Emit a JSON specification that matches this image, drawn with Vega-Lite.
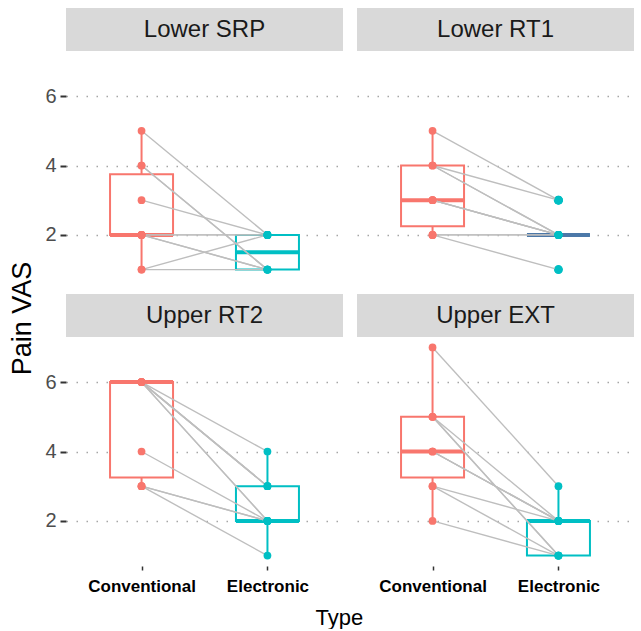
{
  "$schema": "https://vega.github.io/schema/vega-lite/v6.json",
  "padding": {"left": 8, "top": 8, "right": 1, "bottom": 0},
  "datasets": {
    "d": [
      {"panel":"Lower SRP","id":1,"Type":"Conventional","value":5},{"panel":"Lower SRP","id":1,"Type":"Electronic","value":2},
      {"panel":"Lower SRP","id":2,"Type":"Conventional","value":4},{"panel":"Lower SRP","id":2,"Type":"Electronic","value":1},
      {"panel":"Lower SRP","id":3,"Type":"Conventional","value":4},{"panel":"Lower SRP","id":3,"Type":"Electronic","value":1},
      {"panel":"Lower SRP","id":4,"Type":"Conventional","value":3},{"panel":"Lower SRP","id":4,"Type":"Electronic","value":2},
      {"panel":"Lower SRP","id":5,"Type":"Conventional","value":2},{"panel":"Lower SRP","id":5,"Type":"Electronic","value":2},
      {"panel":"Lower SRP","id":6,"Type":"Conventional","value":2},{"panel":"Lower SRP","id":6,"Type":"Electronic","value":2},
      {"panel":"Lower SRP","id":7,"Type":"Conventional","value":2},{"panel":"Lower SRP","id":7,"Type":"Electronic","value":1},
      {"panel":"Lower SRP","id":8,"Type":"Conventional","value":2},{"panel":"Lower SRP","id":8,"Type":"Electronic","value":1},
      {"panel":"Lower SRP","id":9,"Type":"Conventional","value":1},{"panel":"Lower SRP","id":9,"Type":"Electronic","value":2},
      {"panel":"Lower SRP","id":10,"Type":"Conventional","value":1},{"panel":"Lower SRP","id":10,"Type":"Electronic","value":1},

      {"panel":"Lower RT1","id":1,"Type":"Conventional","value":5},{"panel":"Lower RT1","id":1,"Type":"Electronic","value":3},
      {"panel":"Lower RT1","id":2,"Type":"Conventional","value":4},{"panel":"Lower RT1","id":2,"Type":"Electronic","value":3},
      {"panel":"Lower RT1","id":3,"Type":"Conventional","value":4},{"panel":"Lower RT1","id":3,"Type":"Electronic","value":2},
      {"panel":"Lower RT1","id":4,"Type":"Conventional","value":4},{"panel":"Lower RT1","id":4,"Type":"Electronic","value":2},
      {"panel":"Lower RT1","id":5,"Type":"Conventional","value":3},{"panel":"Lower RT1","id":5,"Type":"Electronic","value":2},
      {"panel":"Lower RT1","id":6,"Type":"Conventional","value":3},{"panel":"Lower RT1","id":6,"Type":"Electronic","value":2},
      {"panel":"Lower RT1","id":7,"Type":"Conventional","value":3},{"panel":"Lower RT1","id":7,"Type":"Electronic","value":2},
      {"panel":"Lower RT1","id":8,"Type":"Conventional","value":2},{"panel":"Lower RT1","id":8,"Type":"Electronic","value":2},
      {"panel":"Lower RT1","id":9,"Type":"Conventional","value":2},{"panel":"Lower RT1","id":9,"Type":"Electronic","value":2},
      {"panel":"Lower RT1","id":10,"Type":"Conventional","value":2},{"panel":"Lower RT1","id":10,"Type":"Electronic","value":1},

      {"panel":"Upper RT2","id":1,"Type":"Conventional","value":6},{"panel":"Upper RT2","id":1,"Type":"Electronic","value":4},
      {"panel":"Upper RT2","id":2,"Type":"Conventional","value":6},{"panel":"Upper RT2","id":2,"Type":"Electronic","value":3},
      {"panel":"Upper RT2","id":3,"Type":"Conventional","value":6},{"panel":"Upper RT2","id":3,"Type":"Electronic","value":3},
      {"panel":"Upper RT2","id":4,"Type":"Conventional","value":6},{"panel":"Upper RT2","id":4,"Type":"Electronic","value":3},
      {"panel":"Upper RT2","id":5,"Type":"Conventional","value":6},{"panel":"Upper RT2","id":5,"Type":"Electronic","value":2},
      {"panel":"Upper RT2","id":6,"Type":"Conventional","value":6},{"panel":"Upper RT2","id":6,"Type":"Electronic","value":2},
      {"panel":"Upper RT2","id":7,"Type":"Conventional","value":4},{"panel":"Upper RT2","id":7,"Type":"Electronic","value":2},
      {"panel":"Upper RT2","id":8,"Type":"Conventional","value":3},{"panel":"Upper RT2","id":8,"Type":"Electronic","value":2},
      {"panel":"Upper RT2","id":9,"Type":"Conventional","value":3},{"panel":"Upper RT2","id":9,"Type":"Electronic","value":2},
      {"panel":"Upper RT2","id":10,"Type":"Conventional","value":3},{"panel":"Upper RT2","id":10,"Type":"Electronic","value":1},

      {"panel":"Upper EXT","id":1,"Type":"Conventional","value":7},{"panel":"Upper EXT","id":1,"Type":"Electronic","value":3},
      {"panel":"Upper EXT","id":2,"Type":"Conventional","value":5},{"panel":"Upper EXT","id":2,"Type":"Electronic","value":2},
      {"panel":"Upper EXT","id":3,"Type":"Conventional","value":5},{"panel":"Upper EXT","id":3,"Type":"Electronic","value":1},
      {"panel":"Upper EXT","id":4,"Type":"Conventional","value":5},{"panel":"Upper EXT","id":4,"Type":"Electronic","value":1},
      {"panel":"Upper EXT","id":5,"Type":"Conventional","value":4},{"panel":"Upper EXT","id":5,"Type":"Electronic","value":2},
      {"panel":"Upper EXT","id":6,"Type":"Conventional","value":4},{"panel":"Upper EXT","id":6,"Type":"Electronic","value":2},
      {"panel":"Upper EXT","id":7,"Type":"Conventional","value":4},{"panel":"Upper EXT","id":7,"Type":"Electronic","value":2},
      {"panel":"Upper EXT","id":8,"Type":"Conventional","value":3},{"panel":"Upper EXT","id":8,"Type":"Electronic","value":1},
      {"panel":"Upper EXT","id":9,"Type":"Conventional","value":3},{"panel":"Upper EXT","id":9,"Type":"Electronic","value":2},
      {"panel":"Upper EXT","id":10,"Type":"Conventional","value":2},{"panel":"Upper EXT","id":10,"Type":"Electronic","value":1}
    ]
  },
  "data": {"name": "d"},
  "title": {"text": "Pain VAS", "orient": "left", "anchor": "middle", "fontSize": 27, "fontWeight": "normal", "color": "#000000", "offset": 8},
  "vconcat": [
    {
      "title": {"text": "Type", "orient": "bottom", "anchor": "middle", "fontSize": 22, "fontWeight": "normal", "color": "#000000", "offset": 14},
      "spacing": 14,
      "vconcat": [
        {
          "spacing": 14,
          "hconcat": [
            {
              "spacing": 0,
              "vconcat": [
                {"width": 277, "height": 43, "view": {"fill": "#D9D9D9", "stroke": null},
                 "transform": [{"filter": "datum.panel === 'Lower SRP'"}, {"aggregate": [], "groupby": ["panel"]}],
                 "mark": {"type": "text", "fontSize": 24, "color": "#1A1A1A"},
                 "encoding": {"text": {"field": "panel"}}},
                {"width": 277, "height": 229,
                 "transform": [{"filter": "datum.panel === 'Lower SRP'"}],
                 "encoding": {
                   "x": {"field": "Type", "type": "nominal", "scale": {"type": "point", "domain": ["Conventional", "Electronic"], "padding": 0.6}, "axis": null},
                   "y": {"field": "value", "type": "quantitative", "scale": {"domain": [0.7, 7.3], "nice": false, "zero": false},
                         "axis": {"values": [2, 4, 6], "title": null, "domain": false, "tickSize": 6, "tickWidth": 2, "tickColor": "#333333", "labelFontSize": 20, "labelColor": "#4D4D4D", "labelPadding": 4, "grid": true, "gridDash": [1.5, 8.5], "gridColor": "#A6A6A6", "gridWidth": 1.6}}
                 },
                 "layer": [
                   {"transform": [{"filter": "datum.Type === 'Conventional'"}], "mark": {"type": "boxplot", "extent": 1.5, "size": 63, "box": {"fill": "white", "stroke": "#F8766D", "strokeWidth": 2, "opacity": 1}, "median": {"color": "#F8766D", "thickness": 4, "opacity": 1}, "rule": {"color": "#F8766D", "strokeWidth": 2, "opacity": 1}, "outliers": {"color": "#F8766D", "filled": true, "size": 80, "opacity": 1}}},
                   {"transform": [{"filter": "datum.Type === 'Electronic'"}], "mark": {"type": "boxplot", "extent": 1.5, "size": 63, "box": {"fill": "white", "stroke": "#00BFC4", "strokeWidth": 2, "opacity": 1}, "median": {"color": "#00BFC4", "thickness": 4, "opacity": 1}, "rule": {"color": "#00BFC4", "strokeWidth": 2, "opacity": 1}, "outliers": {"color": "#00BFC4", "filled": true, "size": 80, "opacity": 1}}},
                   {"mark": {"type": "line", "color": "#BEBEBE", "strokeWidth": 1.4}, "encoding": {"detail": {"field": "id"}}},
                   {"mark": {"type": "circle", "size": 60, "opacity": 1}, "encoding": {"color": {"field": "Type", "type": "nominal", "scale": {"domain": ["Conventional", "Electronic"], "range": ["#F8766D", "#00BFC4"]}, "legend": null}}}
                 ]}
              ]
            },
            {
              "spacing": 0,
              "vconcat": [
                {"width": 277, "height": 43, "view": {"fill": "#D9D9D9", "stroke": null},
                 "transform": [{"filter": "datum.panel === 'Lower RT1'"}, {"aggregate": [], "groupby": ["panel"]}],
                 "mark": {"type": "text", "fontSize": 24, "color": "#1A1A1A"},
                 "encoding": {"text": {"field": "panel"}}},
                {"width": 277, "height": 229,
                 "transform": [{"filter": "datum.panel === 'Lower RT1'"}],
                 "encoding": {
                   "x": {"field": "Type", "type": "nominal", "scale": {"type": "point", "domain": ["Conventional", "Electronic"], "padding": 0.6}, "axis": null},
                   "y": {"field": "value", "type": "quantitative", "scale": {"domain": [0.7, 7.3], "nice": false, "zero": false},
                         "axis": {"values": [2, 4, 6], "title": null, "domain": false, "ticks": false, "labels": false, "grid": true, "gridDash": [1.5, 8.5], "gridColor": "#A6A6A6", "gridWidth": 1.6}}
                 },
                 "layer": [
                   {"transform": [{"filter": "datum.Type === 'Conventional'"}], "mark": {"type": "boxplot", "extent": 1.5, "size": 63, "box": {"fill": "white", "stroke": "#F8766D", "strokeWidth": 2, "opacity": 1}, "median": {"color": "#F8766D", "thickness": 4, "opacity": 1}, "rule": {"color": "#F8766D", "strokeWidth": 2, "opacity": 1}, "outliers": {"color": "#F8766D", "filled": true, "size": 80, "opacity": 1}}},
                   {"transform": [{"filter": "datum.Type === 'Electronic'"}], "mark": {"type": "boxplot", "extent": 1.5, "size": 63, "box": {"fill": "white", "stroke": "#00BFC4", "strokeWidth": 2, "opacity": 1}, "median": {"color": "#00BFC4", "thickness": 4, "opacity": 1}, "rule": {"color": "#00BFC4", "strokeWidth": 2, "opacity": 1}, "outliers": {"color": "#00BFC4", "filled": true, "size": 80, "opacity": 1}}},
                   {"mark": {"type": "line", "color": "#BEBEBE", "strokeWidth": 1.4}, "encoding": {"detail": {"field": "id"}}},
                   {"mark": {"type": "circle", "size": 60, "opacity": 1}, "encoding": {"color": {"field": "Type", "type": "nominal", "scale": {"domain": ["Conventional", "Electronic"], "range": ["#F8766D", "#00BFC4"]}, "legend": null}}}
                 ]}
              ]
            }
          ]
        },
        {
          "spacing": 14,
          "hconcat": [
            {
              "spacing": 0,
              "vconcat": [
                {"width": 277, "height": 43, "view": {"fill": "#D9D9D9", "stroke": null},
                 "transform": [{"filter": "datum.panel === 'Upper RT2'"}, {"aggregate": [], "groupby": ["panel"]}],
                 "mark": {"type": "text", "fontSize": 24, "color": "#1A1A1A"},
                 "encoding": {"text": {"field": "panel"}}},
                {"width": 277, "height": 229,
                 "transform": [{"filter": "datum.panel === 'Upper RT2'"}],
                 "encoding": {
                   "x": {"field": "Type", "type": "nominal", "scale": {"type": "point", "domain": ["Conventional", "Electronic"], "padding": 0.6},
                         "axis": {"title": null, "domain": false, "tickSize": 4, "tickWidth": 1.5, "tickColor": "#333333", "labelFontSize": 17, "labelFontWeight": "bold", "labelColor": "#000000", "labelPadding": 8, "labelAngle": 0, "grid": false}},
                   "y": {"field": "value", "type": "quantitative", "scale": {"domain": [0.7, 7.3], "nice": false, "zero": false},
                         "axis": {"values": [2, 4, 6], "title": null, "domain": false, "tickSize": 6, "tickWidth": 2, "tickColor": "#333333", "labelFontSize": 20, "labelColor": "#4D4D4D", "labelPadding": 4, "grid": true, "gridDash": [1.5, 8.5], "gridColor": "#A6A6A6", "gridWidth": 1.6}}
                 },
                 "layer": [
                   {"transform": [{"filter": "datum.Type === 'Conventional'"}], "mark": {"type": "boxplot", "extent": 1.5, "size": 63, "box": {"fill": "white", "stroke": "#F8766D", "strokeWidth": 2, "opacity": 1}, "median": {"color": "#F8766D", "thickness": 4, "opacity": 1}, "rule": {"color": "#F8766D", "strokeWidth": 2, "opacity": 1}, "outliers": {"color": "#F8766D", "filled": true, "size": 80, "opacity": 1}}},
                   {"transform": [{"filter": "datum.Type === 'Electronic'"}], "mark": {"type": "boxplot", "extent": 1.5, "size": 63, "box": {"fill": "white", "stroke": "#00BFC4", "strokeWidth": 2, "opacity": 1}, "median": {"color": "#00BFC4", "thickness": 4, "opacity": 1}, "rule": {"color": "#00BFC4", "strokeWidth": 2, "opacity": 1}, "outliers": {"color": "#00BFC4", "filled": true, "size": 80, "opacity": 1}}},
                   {"mark": {"type": "line", "color": "#BEBEBE", "strokeWidth": 1.4}, "encoding": {"detail": {"field": "id"}}},
                   {"mark": {"type": "circle", "size": 60, "opacity": 1}, "encoding": {"color": {"field": "Type", "type": "nominal", "scale": {"domain": ["Conventional", "Electronic"], "range": ["#F8766D", "#00BFC4"]}, "legend": null}}}
                 ]}
              ]
            },
            {
              "spacing": 0,
              "vconcat": [
                {"width": 277, "height": 43, "view": {"fill": "#D9D9D9", "stroke": null},
                 "transform": [{"filter": "datum.panel === 'Upper EXT'"}, {"aggregate": [], "groupby": ["panel"]}],
                 "mark": {"type": "text", "fontSize": 24, "color": "#1A1A1A"},
                 "encoding": {"text": {"field": "panel"}}},
                {"width": 277, "height": 229,
                 "transform": [{"filter": "datum.panel === 'Upper EXT'"}],
                 "encoding": {
                   "x": {"field": "Type", "type": "nominal", "scale": {"type": "point", "domain": ["Conventional", "Electronic"], "padding": 0.6},
                         "axis": {"title": null, "domain": false, "tickSize": 4, "tickWidth": 1.5, "tickColor": "#333333", "labelFontSize": 17, "labelFontWeight": "bold", "labelColor": "#000000", "labelPadding": 8, "labelAngle": 0, "grid": false}},
                   "y": {"field": "value", "type": "quantitative", "scale": {"domain": [0.7, 7.3], "nice": false, "zero": false},
                         "axis": {"values": [2, 4, 6], "title": null, "domain": false, "ticks": false, "labels": false, "grid": true, "gridDash": [1.5, 8.5], "gridColor": "#A6A6A6", "gridWidth": 1.6}}
                 },
                 "layer": [
                   {"transform": [{"filter": "datum.Type === 'Conventional'"}], "mark": {"type": "boxplot", "extent": 1.5, "size": 63, "box": {"fill": "white", "stroke": "#F8766D", "strokeWidth": 2, "opacity": 1}, "median": {"color": "#F8766D", "thickness": 4, "opacity": 1}, "rule": {"color": "#F8766D", "strokeWidth": 2, "opacity": 1}, "outliers": {"color": "#F8766D", "filled": true, "size": 80, "opacity": 1}}},
                   {"transform": [{"filter": "datum.Type === 'Electronic'"}], "mark": {"type": "boxplot", "extent": 1.5, "size": 63, "box": {"fill": "white", "stroke": "#00BFC4", "strokeWidth": 2, "opacity": 1}, "median": {"color": "#00BFC4", "thickness": 4, "opacity": 1}, "rule": {"color": "#00BFC4", "strokeWidth": 2, "opacity": 1}, "outliers": {"color": "#00BFC4", "filled": true, "size": 80, "opacity": 1}}},
                   {"mark": {"type": "line", "color": "#BEBEBE", "strokeWidth": 1.4}, "encoding": {"detail": {"field": "id"}}},
                   {"mark": {"type": "circle", "size": 60, "opacity": 1}, "encoding": {"color": {"field": "Type", "type": "nominal", "scale": {"domain": ["Conventional", "Electronic"], "range": ["#F8766D", "#00BFC4"]}, "legend": null}}}
                 ]}
              ]
            }
          ]
        }
      ]
    }
  ],
  "config": {
    "font": "Liberation Sans",
    "view": {"stroke": null},
    "mark": {"color": "#00BFC4"},
    "background": "white"
  }
}
